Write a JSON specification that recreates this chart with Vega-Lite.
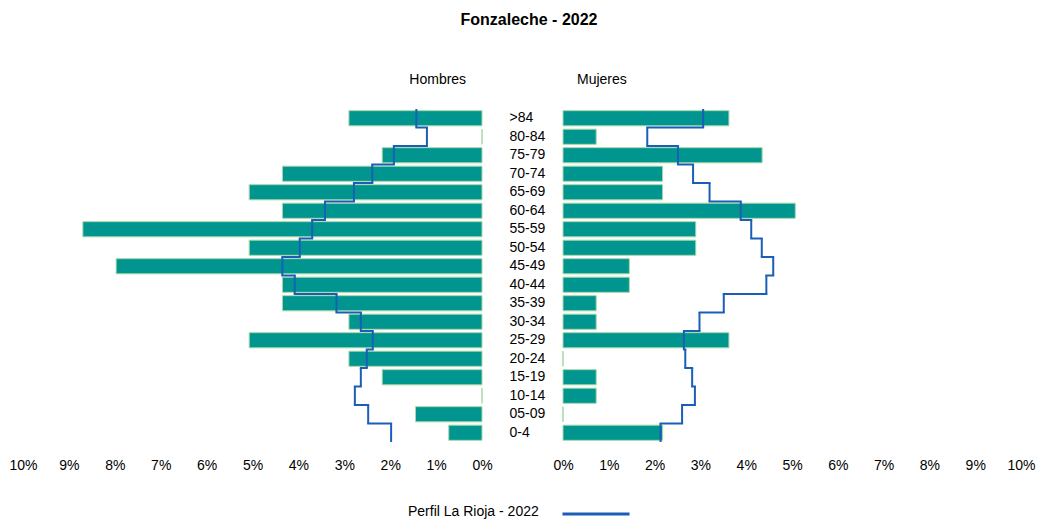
{
  "$schema": "https://vega.github.io/schema/vega-lite/v6.json",
  "padding": {"left": 8, "top": 12, "right": 5, "bottom": 5},
  "background": "white",
  "title": {"text": "Fonzaleche - 2022", "anchor": "middle", "dx": 7, "fontSize": 16, "fontWeight": "bold", "font": "Liberation Sans", "color": "#000", "offset": 45},
  "data": {"values": [
    {"age": ">84", "hombres": 2.899, "mujeres": 3.623, "rioja_h": 1.43, "rioja_m": 3.06},
    {"age": "80-84", "hombres": 0, "mujeres": 0.725, "rioja_h": 1.20, "rioja_m": 1.84},
    {"age": "75-79", "hombres": 2.174, "mujeres": 4.348, "rioja_h": 1.92, "rioja_m": 2.51},
    {"age": "70-74", "hombres": 4.348, "mujeres": 2.174, "rioja_h": 2.39, "rioja_m": 2.84},
    {"age": "65-69", "hombres": 5.072, "mujeres": 2.174, "rioja_h": 2.79, "rioja_m": 3.20},
    {"age": "60-64", "hombres": 4.348, "mujeres": 5.072, "rioja_h": 3.42, "rioja_m": 3.88},
    {"age": "55-59", "hombres": 8.696, "mujeres": 2.899, "rioja_h": 3.70, "rioja_m": 4.11},
    {"age": "50-54", "hombres": 5.072, "mujeres": 2.899, "rioja_h": 3.97, "rioja_m": 4.34},
    {"age": "45-49", "hombres": 7.971, "mujeres": 1.449, "rioja_h": 4.35, "rioja_m": 4.59},
    {"age": "40-44", "hombres": 4.348, "mujeres": 1.449, "rioja_h": 4.08, "rioja_m": 4.44},
    {"age": "35-39", "hombres": 4.348, "mujeres": 0.725, "rioja_h": 3.17, "rioja_m": 3.51},
    {"age": "30-34", "hombres": 2.899, "mujeres": 0.725, "rioja_h": 2.64, "rioja_m": 2.98},
    {"age": "25-29", "hombres": 5.072, "mujeres": 3.623, "rioja_h": 2.38, "rioja_m": 2.64},
    {"age": "20-24", "hombres": 2.899, "mujeres": 0, "rioja_h": 2.51, "rioja_m": 2.67},
    {"age": "15-19", "hombres": 2.174, "mujeres": 0.725, "rioja_h": 2.64, "rioja_m": 2.82},
    {"age": "10-14", "hombres": 0, "mujeres": 0.725, "rioja_h": 2.77, "rioja_m": 2.88},
    {"age": "05-09", "hombres": 1.449, "mujeres": 0, "rioja_h": 2.48, "rioja_m": 2.60},
    {"age": "0-4", "hombres": 0.725, "mujeres": 2.174, "rioja_h": 1.98, "rioja_m": 2.13}
  ]},
  "hconcat": [
    {
      "width": 459,
      "height": 333,
      "title": {"text": "Hombres", "anchor": "end", "dx": -26, "fontSize": 14, "fontWeight": "normal", "font": "Liberation Sans", "color": "#000", "offset": 22},
      "layer": [
        {
          "mark": {"type": "bar", "fill": "#00968f", "stroke": "#a8d8a8", "strokeWidth": 1},
          "encoding": {
            "y": {"field": "age", "type": "nominal", "sort": null, "axis": null, "scale": {"paddingInner": 0.18, "paddingOuter": 0.09}},
            "x": {"field": "hombres", "type": "quantitative", "scale": {"domain": [0, 10], "reverse": true, "nice": false},
                  "axis": {"title": null, "values": [0,1,2,3,4,5,6,7,8,9,10], "labelExpr": "datum.value + '%'", "grid": false, "ticks": false, "domain": false, "labelFlush": false, "labelPadding": 16, "labelFontSize": 14, "labelFont": "Liberation Sans", "labelColor": "#000"}}
          }
        },
        {
          "mark": {"type": "tick", "color": "#1a5eb8", "thickness": 2, "size": 18.5, "opacity": 1},
          "encoding": {
            "y": {"field": "age", "type": "nominal", "sort": null},
            "x": {"field": "rioja_h", "type": "quantitative"}
          }
        },
        {
          "transform": [
            {"window": [{"op": "lead", "field": "rioja_h", "as": "next_h"}]},
            {"filter": "datum.next_h != null"}
          ],
          "mark": {"type": "rule", "color": "#1a5eb8", "strokeWidth": 2, "yOffset": 9.25, "strokeCap": "square"},
          "encoding": {
            "y": {"field": "age", "type": "nominal", "sort": null},
            "x": {"field": "rioja_h", "type": "quantitative"},
            "x2": {"field": "next_h"}
          }
        }
      ]
    },
    {
      "width": 458,
      "height": 333,
      "title": {"text": "Mujeres", "anchor": "start", "dx": 68, "fontSize": 14, "fontWeight": "normal", "font": "Liberation Sans", "color": "#000", "offset": 22},
      "layer": [
        {
          "mark": {"type": "bar", "fill": "#00968f", "stroke": "#a8d8a8", "strokeWidth": 1},
          "encoding": {
            "y": {"field": "age", "type": "nominal", "sort": null, "scale": {"paddingInner": 0.18, "paddingOuter": 0.09},
                  "axis": {"title": null, "orient": "left", "labelAlign": "left", "labelPadding": 54, "ticks": false, "domain": false, "labelFontSize": 14, "labelFont": "Liberation Sans", "labelColor": "#000"}},
            "x": {"field": "mujeres", "type": "quantitative", "scale": {"domain": [0, 10], "nice": false},
                  "axis": {"title": null, "values": [0,1,2,3,4,5,6,7,8,9,10], "labelExpr": "datum.value + '%'", "grid": false, "ticks": false, "domain": false, "labelFlush": false, "labelPadding": 16, "labelFontSize": 14, "labelFont": "Liberation Sans", "labelColor": "#000"}}
          }
        },
        {
          "mark": {"type": "tick", "color": "#1a5eb8", "thickness": 2, "size": 18.5, "opacity": 1},
          "encoding": {
            "y": {"field": "age", "type": "nominal", "sort": null},
            "x": {"field": "rioja_m", "type": "quantitative"}
          }
        },
        {
          "transform": [
            {"window": [{"op": "lead", "field": "rioja_m", "as": "next_m"}]},
            {"filter": "datum.next_m != null"}
          ],
          "mark": {"type": "rule", "strokeWidth": 2, "yOffset": 9.25, "strokeCap": "square"},
          "encoding": {
            "y": {"field": "age", "type": "nominal", "sort": null},
            "x": {"field": "rioja_m", "type": "quantitative"},
            "x2": {"field": "next_m"},
            "color": {"datum": "Perfil La Rioja - 2022", "type": "nominal", "scale": {"range": ["#1a5eb8"]},
                      "legend": {"orient": "bottom", "direction": "horizontal", "title": "Perfil La Rioja - 2022", "titleOrient": "left", "titleFontWeight": "normal", "titleFontSize": 14, "titleFont": "Liberation Sans", "titleColor": "#000", "titlePadding": 39, "titleBaseline": "middle", "symbolType": "M-3.045,0H4.955", "symbolSize": 281, "symbolStrokeWidth": 3, "symbolStrokeColor": "#1a64c8", "symbolFillColor": "transparent", "symbolOpacity": 1, "labelExpr": "''", "offset": 32}}
          }
        }
      ]
    }
  ],
  "spacing": 16,
  "config": {
    "view": {"stroke": null},
    "legend": {"layout": {"anchor": "middle"}}
  }
}
